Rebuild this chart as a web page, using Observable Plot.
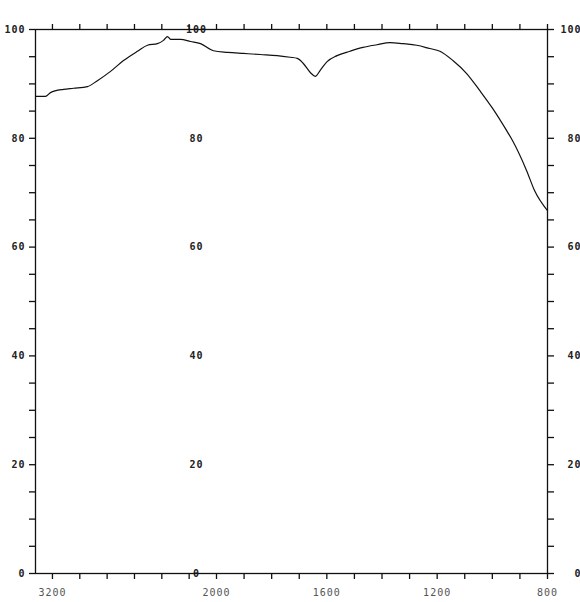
<!DOCTYPE html>
<html>
<head>
<meta charset="utf-8">
<script src="https://cdn.jsdelivr.net/npm/d3@7"></script>
<script src="https://cdn.jsdelivr.net/npm/@observablehq/plot@0.6"></script>
<style>
  html, body { margin: 0; padding: 0; background: #fff; }
  svg text { font-family: "DejaVu Sans Mono", monospace; letter-spacing: 1px; }
</style>
</head>
<body>
<div id="chart"></div>
<script>
// Wavenumber (cm-1) and transmittance (%)
const wavenumber = [3324, 3251, 3214, 3119, 3046, 2944, 2871, 2775, 2680, 2578, 2505, 2432, 2388, 2358, 2336, 2263, 2190, 2117, 2022, 1960, 1902, 1841, 1780, 1733, 1707, 1686, 1660, 1642, 1624, 1599, 1563, 1516, 1469, 1418, 1371, 1324, 1274, 1227, 1190, 1143, 1093, 1046, 999, 948, 927, 876, 847, 800];
const transmittance = [87.7, 87.7, 88.4, 89.0, 89.2, 89.5, 90.6, 92.3, 94.3, 96.0, 97.1, 97.4, 98.0, 98.7, 98.2, 98.2, 97.8, 97.4, 96.1, 95.8, 95.6, 95.4, 95.2, 94.9, 94.7, 93.8, 92.1, 91.4, 92.5, 94.1, 95.2, 96.0, 96.7, 97.2, 97.6, 97.4, 97.1, 96.5, 96.0, 94.3, 91.9, 88.8, 85.5, 81.4, 79.6, 74.1, 70.4, 66.7];

// Axis ticks: scale changes at 2000 cm-1
const xTicks = [3200, 3000, 2800, 2600, 2400, 2200, 2000, 1900, 1800, 1700, 1600, 1500, 1400, 1300, 1200, 1100, 1000, 900, 800];
const xLabels = [3200, 2000, 1600, 1200, 800];
const yTicks = [0, 5, 10, 15, 20, 25, 30, 35, 40, 45, 50, 55, 60, 65, 70, 75, 80, 85, 90, 95, 100];
const yLabels = [0, 20, 40, 60, 80, 100];
const midAxisWavenumber = 2146;

const spectrum = wavenumber.map((w, i) => ({wn: w, t: transmittance[i]}));
const fmtX = d => xLabels.includes(d) ? String(d) : "";
const fmtY = d => yLabels.includes(d) ? String(d) : "";

const chart = Plot.plot({
  width: 580,
  height: 602,
  marginLeft: 35,
  marginRight: 33,
  marginTop: 29,
  marginBottom: 29,
  style: {fontFamily: "DejaVu Sans Mono, monospace", fontSize: "10px", background: "#fff", color: "#222"},
  x: {type: "linear", domain: [3324, 2000, 800], range: [35, 216, 547]},
  y: {domain: [0, 100]},
  marks: [
    Plot.axisX({anchor: "bottom", ticks: xTicks, tickFormat: fmtX, tickSize: 6, tickPadding: 9, label: null, stroke: "#111", strokeWidth: 1.3, fill: "#555"}),
    Plot.axisX({anchor: "top", ticks: xTicks, tickFormat: () => "", tickSize: 6, label: null, stroke: "#111", strokeWidth: 1.3}),
    Plot.axisY({anchor: "left", ticks: yTicks, tickFormat: fmtY, tickSize: 6, tickPadding: 4, label: null, stroke: "#111", strokeWidth: 1.3, fill: "#222", fontWeight: "bold"}),
    Plot.axisY({anchor: "right", ticks: yTicks, tickFormat: fmtY, tickSize: 6, tickPadding: 28, textAnchor: "end", label: null, stroke: "#111", strokeWidth: 1.3, fill: "#222", fontWeight: "bold"}),
    Plot.text(yLabels, {x: () => midAxisWavenumber, y: d => d, text: d => String(d), fill: "#222", fontWeight: "bold", fontSize: 10}),
    Plot.frame({stroke: "#111", strokeWidth: 1.3}),
    Plot.line(spectrum, {x: "wn", y: "t", stroke: "#111", strokeWidth: 1.2, curve: "monotone-x"})
  ]
});
document.getElementById("chart").appendChild(chart);
</script>
</body>
</html>
